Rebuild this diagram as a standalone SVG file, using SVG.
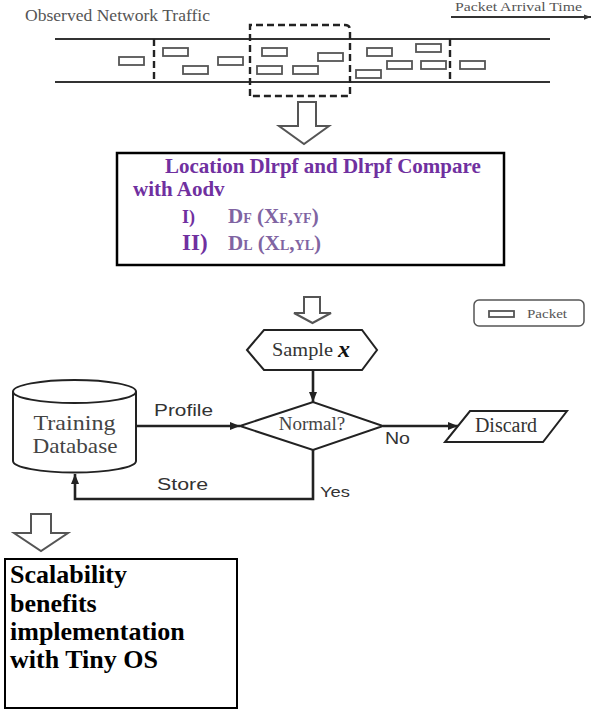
<svg xmlns="http://www.w3.org/2000/svg" width="592" height="710" viewBox="0 0 592 710">
<style>
.pkt{fill:#fff;stroke:#555;stroke-width:1.8}
.rail{stroke:#333;stroke-width:2.2;fill:none}
.dash{stroke:#222;stroke-width:2.4;fill:none;stroke-dasharray:7 4}
.blk{fill:#fff;stroke:#555;stroke-width:2}
.ln{stroke:#222;stroke-width:2.6;fill:none}
.shape{fill:#fff;stroke:#222;stroke-width:2}
.serif{font-family:"Liberation Serif","Times New Roman",serif}
.sans{font-family:"Liberation Sans",Arial,sans-serif;fill:#333}
.pur{fill:#7030A0;font-weight:bold}
.lpur{fill:#8064A2;font-weight:bold}
.blackb{fill:#000;font-weight:bold;font-size:26px}
</style>
<defs>
<marker id="ah" viewBox="0 0 10 8" refX="10" refY="4" markerWidth="10" markerHeight="8" markerUnits="userSpaceOnUse" orient="auto">
<path d="M0,0 L10,4 L0,8 Z" fill="#222"/>
</marker>
<marker id="ahs" viewBox="0 0 8 6" refX="8" refY="3" markerWidth="7" markerHeight="6" markerUnits="userSpaceOnUse" orient="auto">
<path d="M0,0 L8,3 L0,6 Z" fill="#333"/>
</marker>
</defs>

<g id="traffic">
<text class="serif" x="25" y="21" font-size="16" fill="#555" textLength="185" lengthAdjust="spacingAndGlyphs">Observed Network Traffic</text>
<text class="serif" x="455" y="11" font-size="12" fill="#555" textLength="127" lengthAdjust="spacingAndGlyphs">Packet Arrival Time</text>
<line x1="451" y1="17" x2="591" y2="17" stroke="#333" stroke-width="1.8" marker-end="url(#ahs)"/>
<line class="rail" x1="55" y1="39" x2="550" y2="39"/>
<line class="rail" x1="55" y1="82" x2="550" y2="82"/>
<line class="dash" x1="154" y1="39" x2="154" y2="82"/>
<line class="dash" x1="450" y1="39" x2="450" y2="82"/>
<path class="dash" d="M250,96 L250,25 L345,25 Q350,25 350,30 L350,96 Z" stroke-width="2.6"/>
<rect class="pkt" x="119" y="57" width="25" height="8"/>
<rect class="pkt" x="163" y="48" width="25" height="8"/>
<rect class="pkt" x="183" y="66" width="25" height="8"/>
<rect class="pkt" x="218" y="57" width="25" height="8"/>
<rect class="pkt" x="262" y="48" width="25" height="8"/>
<rect class="pkt" x="257" y="66" width="25" height="8"/>
<rect class="pkt" x="293" y="66" width="25" height="8"/>
<rect class="pkt" x="318" y="53" width="25" height="8"/>
<rect class="pkt" x="356" y="70" width="25" height="8"/>
<rect class="pkt" x="367" y="48" width="25" height="8"/>
<rect class="pkt" x="387" y="61" width="25" height="8"/>
<rect class="pkt" x="416" y="44" width="25" height="8"/>
<rect class="pkt" x="421" y="61" width="25" height="8"/>
<rect class="pkt" x="460" y="61" width="25" height="8"/>
</g>

<g id="legend">
<rect x="474" y="300" width="110" height="26" rx="5" fill="#fff" stroke="#555" stroke-width="1.5"/>
<rect class="pkt" x="489" y="311" width="25" height="6"/>
<text class="serif" x="527" y="318" font-size="12" fill="#555" textLength="40" lengthAdjust="spacingAndGlyphs">Packet</text>
</g>

<g id="location-box">
<rect x="117" y="153" width="387" height="112" fill="#fff" stroke="#000" stroke-width="2.5"/>
<text class="serif pur" x="165" y="173" font-size="21">Location Dlrpf and Dlrpf Compare</text>
<text class="serif pur" x="133" y="196" font-size="21">with Aodv</text>
<text class="serif pur" x="182" y="223" font-size="18">I)</text>
<text class="serif lpur" x="228" y="223" font-size="21">D<tspan font-size="14">F</tspan> (X<tspan font-size="14">F</tspan>,<tspan font-size="14">YF</tspan>)</text>
<text class="serif pur" x="182" y="250" font-size="23">II)</text>
<text class="serif lpur" x="228" y="250" font-size="21">D<tspan font-size="14">L</tspan> (X<tspan font-size="14">L</tspan>,<tspan font-size="14">YL</tspan>)</text>
</g>

<g id="sample">
<polygon class="shape" points="247,350 264,330 362,330 377,350 362,370 264,370"/>
<text class="serif" x="272" y="356" font-size="19" fill="#333" textLength="61" lengthAdjust="spacingAndGlyphs">Sample</text>
<text class="serif" x="338" y="357" font-size="24" font-weight="bold" font-style="italic" fill="#111">x</text>
</g>

<g id="normal">
<polygon class="shape" points="240,426 313,402 383,426 313,450"/>
<text class="serif" x="312" y="430" font-size="19" fill="#444" text-anchor="middle">Normal?</text>
</g>

<g id="discard">
<polygon class="shape" points="470,411 567,411 543,442 445,442"/>
<text class="serif" x="506" y="432" font-size="20" fill="#333" text-anchor="middle">Discard</text>
</g>

<g id="database">
<path class="shape" d="M13,391.5 L13,461 A61.5,11.5 0 0 0 136,461 L136,391.5"/>
<ellipse class="shape" cx="74.5" cy="391.5" rx="61.5" ry="11.5"/>
<text class="serif" x="33.5" y="430" font-size="21" fill="#444" textLength="82" lengthAdjust="spacingAndGlyphs">Training</text>
<text class="serif" x="32.5" y="453" font-size="21" fill="#444" textLength="85" lengthAdjust="spacingAndGlyphs">Database</text>
</g>

<g id="scalability-box">
<rect x="5" y="559" width="232" height="149" fill="#fff" stroke="#000" stroke-width="2"/>
<text class="serif blackb" x="10" y="583">Scalability</text>
<text class="serif blackb" x="10" y="612">benefits</text>
<text class="serif blackb" x="10" y="640">implementation</text>
<text class="serif blackb" x="10" y="668">with Tiny OS</text>
</g>

<g id="connectors">
<path class="blk" d="M298,102 L316,102 L316,126 L329,126 L304,144 L279,126 L298,126 Z"/>
<path class="blk" d="M304,297 L320,297 L320,313 L331,313 L312.5,323 L294,313 L304,313 Z"/>
<path class="blk" d="M31,514 L51,514 L51,533 L68,533 L41,551 L14,533 L31,533 Z"/>
<line class="ln" x1="313" y1="370" x2="313" y2="402" stroke-width="3" marker-end="url(#ah)"/>
<line class="ln" x1="136" y1="426" x2="240" y2="426" marker-end="url(#ah)"/>
<line class="ln" x1="383" y1="426" x2="458" y2="426" marker-end="url(#ah)"/>
<path class="ln" d="M313,450 L313,499 L75,499 L75,474" stroke-width="3" marker-end="url(#ah)"/>
<text class="sans" x="154" y="416" font-size="16" textLength="59" lengthAdjust="spacingAndGlyphs">Profile</text>
<text class="sans" x="157" y="490" font-size="16" textLength="51" lengthAdjust="spacingAndGlyphs">Store</text>
<text class="sans" x="385" y="444" font-size="16" textLength="25" lengthAdjust="spacingAndGlyphs">No</text>
<text class="sans" x="320" y="497" font-size="15" textLength="30" lengthAdjust="spacingAndGlyphs">Yes</text>
</g>
</svg>
